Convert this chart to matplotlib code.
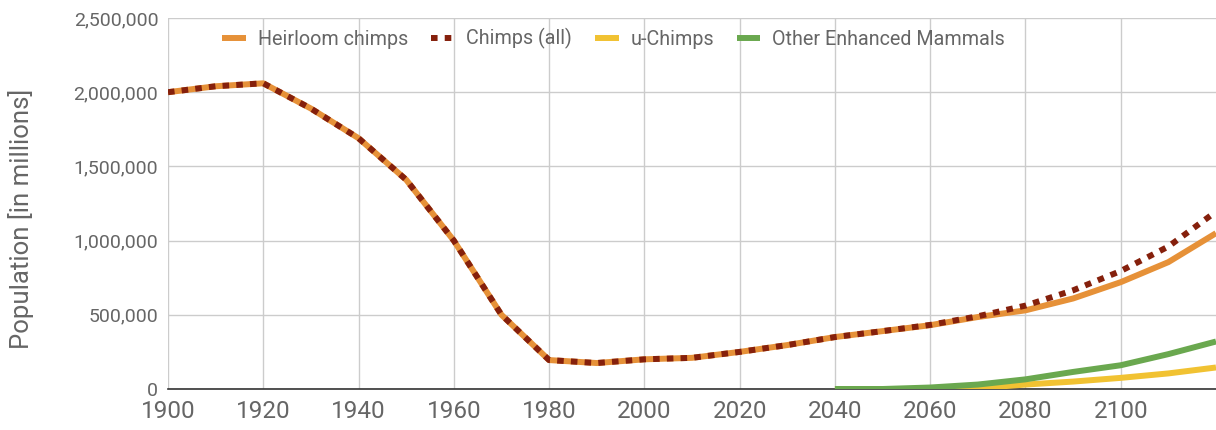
import matplotlib.pyplot as plt
from matplotlib.ticker import FuncFormatter

# data
years = [1900, 1910, 1920, 1930, 1940, 1950, 1960, 1970, 1980, 1990, 2000,
         2010, 2020, 2030, 2040, 2050, 2060, 2070, 2080, 2090, 2100, 2110, 2120]
heirloom = [2000000, 2040000, 2060000, 1890000, 1690000, 1410000, 1000000, 500000,
            195000, 175000, 200000, 210000, 250000, 296000, 350000, 390000, 430000,
            485000, 530000, 610000, 720000, 855000, 1050000]
chimps_all = [2000000, 2040000, 2060000, 1890000, 1690000, 1410000, 1000000, 500000,
              195000, 175000, 200000, 210000, 250000, 296000, 350000, 390000, 432000,
              490000, 562000, 665000, 795000, 960000, 1195000]
future_years = [2040, 2050, 2060, 2070, 2080, 2090, 2100, 2110, 2120]
u_chimps = [0, 0, 0, 5000, 30000, 50000, 75000, 105000, 145000]
other_mammals = [0, 0, 10000, 30000, 65000, 115000, 160000, 235000, 320000]

plt.rcParams['font.family'] = ['Roboto', 'DejaVu Sans']
grey = '#666666'

fig = plt.figure(figsize=(12.16, 4.3), dpi=100)
ax = fig.add_axes([168 / 1216, 41 / 430, 1 - 168 / 1216, 371 / 430])

ax.plot(years, heirloom, color='#e69138', lw=4.3, label='Heirloom chimps',
        solid_capstyle='butt', zorder=3)
ax.plot(years, chimps_all, color='#85200c', lw=4.3, linestyle=(0, (1.1, 1.2)),
        dash_capstyle='butt', label='Chimps (all)', zorder=4)
ax.plot(future_years, u_chimps, color='#f1c232', lw=4.3, label='u-Chimps',
        solid_capstyle='butt', zorder=5)
ax.plot(future_years, other_mammals, color='#6aa84f', lw=4.3,
        label='Other Enhanced Mammals', solid_capstyle='butt', zorder=6)

ax.set_xlim(1900, 2120)
ax.set_ylim(0, 2500000)
ax.set_xticks(range(1900, 2101, 20))
ax.set_yticks(range(0, 2500001, 500000))
ax.yaxis.set_major_formatter(FuncFormatter(lambda v, p: f'{int(v):,}'))
ax.grid(True, color='#cccccc', lw=1)
ax.set_axisbelow(True)
for s in ['top', 'right', 'left']:
    ax.spines[s].set_visible(False)
ax.spines['bottom'].set_color('#333333')
ax.spines['bottom'].set_linewidth(1.2)
ax.spines['bottom'].set_zorder(2)
ax.tick_params(axis='x', length=0, pad=8, labelsize=17.5, labelcolor=grey)
ax.tick_params(axis='y', length=0, pad=7, labelsize=14, labelcolor=grey)
ax.set_ylabel('Population [in millions]', fontsize=18.5, color=grey)
ax.yaxis.set_label_coords(-0.128, 0.458)

leg = ax.legend(loc='upper left', bbox_to_anchor=(0.035, 1.02), ncol=4, frameon=False,
                fontsize=14.2, handlelength=1.2, handletextpad=0.6, columnspacing=1.15,
                labelcolor=grey)

fig.savefig('out.png', dpi=100)
